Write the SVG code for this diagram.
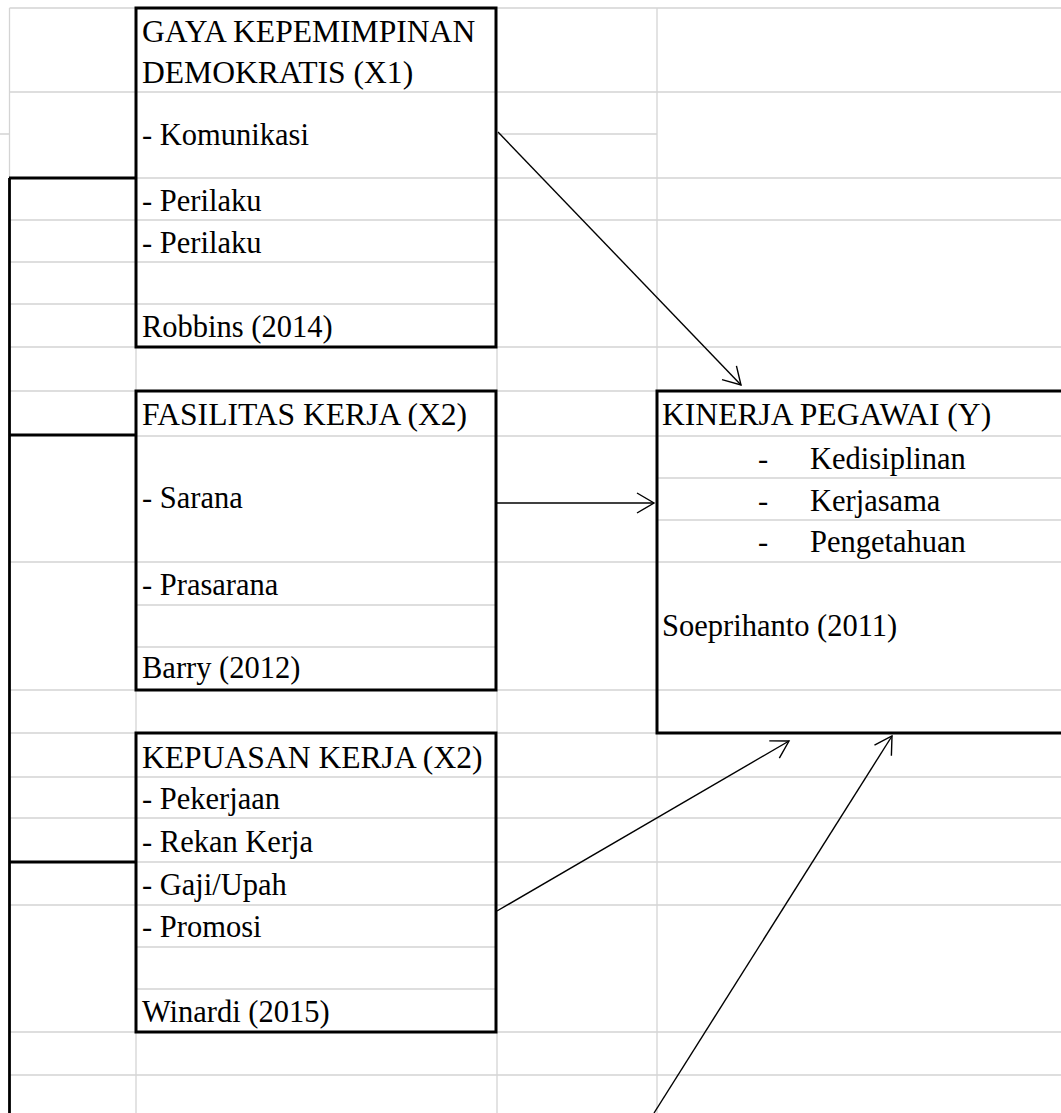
<svg xmlns="http://www.w3.org/2000/svg" width="1061" height="1113" viewBox="0 0 1061 1113">
<style>
.grid{fill:none;stroke:#d4d4d4;stroke-width:1.3}
.box{fill:none;stroke:#000;stroke-width:3}
.brk{fill:none;stroke:#000;stroke-width:2.8}
.conn{fill:none;stroke:#000;stroke-width:1.4}
text{font-family:"Liberation Serif","Times New Roman",serif;font-size:30.5px;fill:#000}
text.t{font-size:31.6px}
</style>
<defs>
<marker id="arr" markerUnits="userSpaceOnUse" markerWidth="22" markerHeight="24" viewBox="0 0 22 24" refX="19" refY="12" orient="auto">
<path d="M2,2 L19,12 L2,22" fill="none" stroke="#000" stroke-width="1.4"/>
</marker>
</defs>
<rect width="1061" height="1113" fill="#fff"/>
<g id="grid" class="grid">
<path d="M9.5 8H1061M9.5 92H1061M0 134H9.5M497 134H657M136 178H1061M9.5 220H1061M9.5 262H497M9.5 304H497M9.5 347H1061M9.5 391H136M497 391H657M136 436H1061M657 478H1061M657 520H1061M9.5 562H1061M136 605H497M136 647H497M9.5 690H1061M9.5 733H136M497 733H657M9.5 777H1061M9.5 818H1061M136 862H1061M9.5 905H1061M136 947H497M136 989H497M9.5 1032H1061M9.5 1075H1061"/>
<path d="M9.5 8V178M136 347V391M136 690V733M136 1032V1113M497 347V391M497 690V733M497 1032V1113M657 8V391M657 733V1113"/>
</g>
<g id="bracket" class="brk">
<path d="M9.5 178V1113M9 178H136M9 435H136M9 862H136"/>
</g>
<g id="node-x1">
<rect class="box" x="136" y="8" width="360" height="339"/>
<text class="t" x="142" y="42">GAYA KEPEMIMPINAN</text>
<text class="t" x="142" y="83">DEMOKRATIS (X1)</text>
<text x="142" y="145">- Komunikasi</text>
<text x="142" y="211">- Perilaku</text>
<text x="142" y="253">- Perilaku</text>
<text x="142" y="337">Robbins (2014)</text>
</g>
<g id="node-x2">
<rect class="box" x="136" y="391" width="360" height="299"/>
<text class="t" x="142" y="425">FASILITAS KERJA (X2)</text>
<text x="142" y="508">- Sarana</text>
<text x="142" y="595">- Prasarana</text>
<text x="142" y="678">Barry (2012)</text>
</g>
<g id="node-x3">
<rect class="box" x="136" y="733" width="360" height="299"/>
<text class="t" x="142" y="768">KEPUASAN KERJA (X2)</text>
<text x="142" y="809">- Pekerjaan</text>
<text x="142" y="852">- Rekan Kerja</text>
<text x="142" y="895">- Gaji/Upah</text>
<text x="142" y="937">- Promosi</text>
<text x="142" y="1022">Winardi (2015)</text>
</g>
<g id="node-y">
<path class="box" d="M1064 391H657V733H1064"/>
<text class="t" x="662" y="425">KINERJA PEGAWAI (Y)</text>
<text x="758" y="469">-</text>
<text x="810" y="469">Kedisiplinan</text>
<text x="758" y="511">-</text>
<text x="810" y="511">Kerjasama</text>
<text x="758" y="552">-</text>
<text x="810" y="552">Pengetahuan</text>
<text x="662" y="636">Soeprihanto (2011)</text>
</g>
<g id="connectors" class="conn">
<line x1="498" y1="132" x2="741" y2="385" marker-end="url(#arr)"/>
<line x1="497" y1="503" x2="654" y2="503" marker-end="url(#arr)"/>
<line x1="497" y1="911" x2="789" y2="741" marker-end="url(#arr)"/>
<line x1="654" y1="1113" x2="892" y2="736" marker-end="url(#arr)"/>
</g>
</svg>
